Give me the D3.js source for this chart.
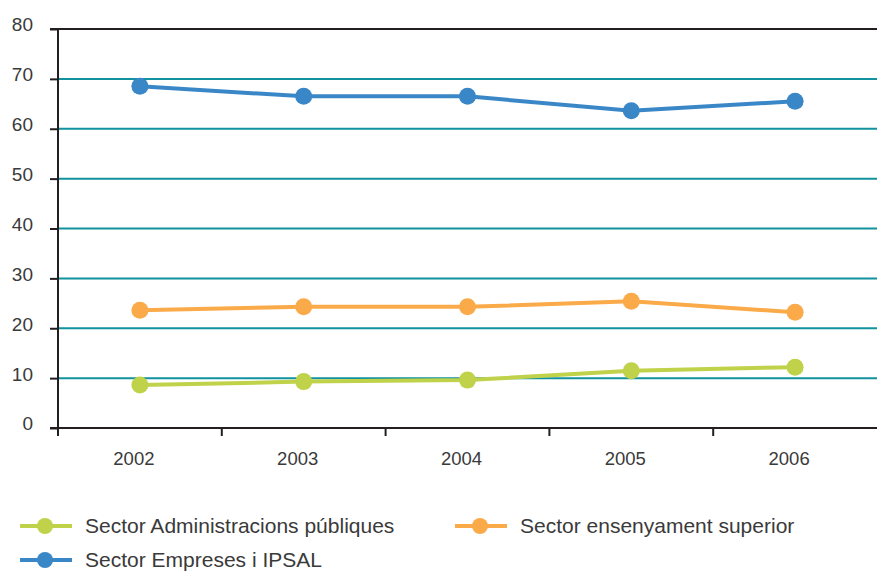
<!DOCTYPE html>
<html>
<head>
<meta charset="utf-8">
<script src="https://cdn.jsdelivr.net/npm/d3@7"></script>
<style>
  body { margin: 0; background: #fff; }
  svg { display: block; font-family: "Liberation Sans", Arial, sans-serif; }
</style>
</head>
<body>
<div id="chart"></div>
<script>
// chart data
var years = ["2002", "2003", "2004", "2005", "2006"];
var yTicks = [0, 10, 20, 30, 40, 50, 60, 70, 80];
var administracions = [8.6, 9.3, 9.6, 11.5, 12.2];
var ensenyament = [23.6, 24.3, 24.3, 25.4, 23.2];
var empreses = [68.5, 66.5, 66.5, 63.6, 65.5];
var seriesNames = ["Sector Administracions públiques", "Sector ensenyament superior", "Sector Empreses i IPSAL"];

var series = [
  { name: seriesNames[0], values: administracions, color: "#bfd24a" },
  { name: seriesNames[1], values: ensenyament, color: "#fbaa4a" },
  { name: seriesNames[2], values: empreses, color: "#3a87c8" }
];

var svgWidth = 877;
var svgHeight = 573;
var margin = { top: 29, right: 0, bottom: 145, left: 58 };
var width = svgWidth - margin.left - margin.right;
var height = 428 - margin.top;

var svg = d3.select("#chart")
  .append("svg")
  .attr("width", svgWidth)
  .attr("height", svgHeight);

var chartGroup = svg.append("g")
  .attr("transform", `translate(${margin.left}, ${margin.top})`);

var xScale = d3.scaleBand()
  .domain(years)
  .range([0, width]);

var yScale = d3.scaleLinear()
  .domain([0, 80])
  .range([height, 0]);

// gridlines
chartGroup.selectAll(".grid")
  .data(yTicks.filter(d => d > 0 && d < 80))
  .enter()
  .append("line")
  .attr("x1", 0)
  .attr("x2", width)
  .attr("y1", d => yScale(d))
  .attr("y2", d => yScale(d))
  .attr("stroke", "#10929f")
  .attr("stroke-width", 2);

// top border and baseline
chartGroup.selectAll(".frame")
  .data([0, 80])
  .enter()
  .append("line")
  .attr("x1", -8)
  .attr("x2", width)
  .attr("y1", d => yScale(d))
  .attr("y2", d => yScale(d))
  .attr("stroke", "#231f20")
  .attr("stroke-width", 2);

// y axis
var leftAxis = d3.axisLeft(yScale).tickValues(yTicks).tickSize(8).tickPadding(17);
var yAxis = chartGroup.append("g").call(leftAxis);
yAxis.select(".domain").remove();
yAxis.selectAll(".tick line").attr("stroke", "#231f20").attr("stroke-width", 2);
yAxis.selectAll(".tick text")
  .attr("dy", "0.1em")
  .attr("font-size", "19px")
  .attr("fill", "#3a3a3a");

chartGroup.append("line")
  .attr("x1", 0).attr("x2", 0)
  .attr("y1", 0).attr("y2", height + 8)
  .attr("stroke", "#231f20")
  .attr("stroke-width", 2);

// x axis ticks at band edges
var bottomAxis = d3.axisBottom(xScale).tickSize(0).tickPadding(0);
var xAxis = chartGroup.append("g")
  .attr("transform", `translate(-6, ${height})`)
  .call(bottomAxis);
xAxis.select(".domain").remove();
xAxis.selectAll(".tick text")
  .attr("y", 37)
  .attr("dy", "0")
  .attr("font-size", "18.5px")
  .attr("fill", "#3a3a3a");

chartGroup.selectAll(".xtick")
  .data(years.slice(1))
  .enter()
  .append("line")
  .attr("x1", d => xScale(d))
  .attr("x2", d => xScale(d))
  .attr("y1", height)
  .attr("y2", height + 8)
  .attr("stroke", "#231f20")
  .attr("stroke-width", 2);

// lines and points
var line = d3.line()
  .x((d, i) => xScale(years[i]) + xScale.bandwidth() / 2)
  .y(d => yScale(d));

series.forEach(function(s) {
  chartGroup.append("path")
    .datum(s.values)
    .attr("d", line)
    .attr("fill", "none")
    .attr("stroke", s.color)
    .attr("stroke-width", 4);

  chartGroup.selectAll(null)
    .data(s.values)
    .enter()
    .append("circle")
    .attr("cx", (d, i) => xScale(years[i]) + xScale.bandwidth() / 2)
    .attr("cy", d => yScale(d))
    .attr("r", 8.5)
    .attr("fill", s.color);
});

// legend (last row nudged up so its text stays inside the frame)
var legendPos = [[20, 526], [455, 526], [20, 560]];
var legend = svg.selectAll(".legend")
  .data(series)
  .enter()
  .append("g")
  .attr("transform", (d, i) => `translate(${legendPos[i][0]}, ${legendPos[i][1]})`);

legend.append("line")
  .attr("x1", 0).attr("x2", 52)
  .attr("y1", 0).attr("y2", 0)
  .attr("stroke", d => d.color)
  .attr("stroke-width", 4);

legend.append("circle")
  .attr("cx", 25)
  .attr("cy", 0)
  .attr("r", 8)
  .attr("fill", d => d.color);

legend.append("text")
  .attr("x", 65)
  .attr("y", 6.5)
  .attr("font-size", "21px")
  .attr("fill", "#3a3a3a")
  .text(d => d.name);
</script>
</body>
</html>
